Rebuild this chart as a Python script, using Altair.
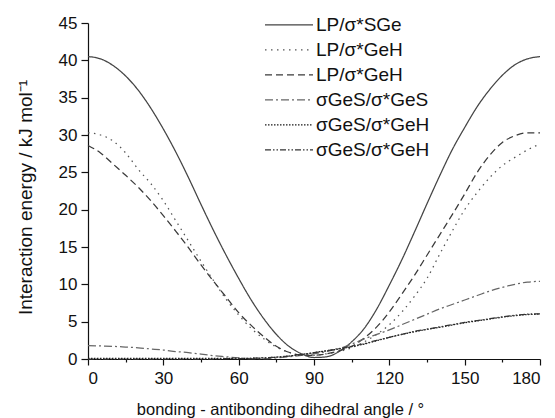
import altair as alt
import pandas as pd

# Dihedral angle grid (degrees)
angle = list(range(0, 181, 5))

# Interaction energies (kJ/mol) for each NBO donor/acceptor pair
lp_sge = [40.5, 40.2, 39.3, 37.9, 36.0, 33.6, 30.8, 27.7, 24.3, 20.7, 17.2, 13.9,
          10.8, 7.9, 5.4, 3.3, 1.7, 0.7, 0.2, 0.3, 1.0, 2.3, 4.1, 6.7, 9.9, 13.3,
          17.0, 20.8, 24.5, 28.0, 31.0, 33.8, 36.1, 38.0, 39.4, 40.2, 40.5]
lp_geh_a = [30.3, 30.0, 29.2, 27.6, 25.4, 23.5, 21.2, 18.5, 15.8, 13.1, 10.5, 8.0,
            5.9, 4.1, 2.7, 1.6, 0.9, 0.5, 0.5, 0.7, 1.0, 1.5, 2.3, 3.3, 4.6, 6.3,
            8.4, 10.8, 14.0, 17.1, 20.0, 22.3, 24.3, 25.9, 27.0, 28.0, 28.8]
lp_geh_b = [28.6, 27.6, 26.1, 24.6, 23.0, 21.2, 19.2, 17.1, 14.9, 12.6, 10.4, 8.3,
            6.2, 4.5, 3.0, 1.7, 0.9, 0.5, 0.5, 0.7, 1.1, 1.7, 2.8, 4.3, 6.3, 8.7,
            11.2, 13.9, 16.6, 19.3, 22.1, 25.0, 27.3, 29.0, 29.9, 30.3, 30.3]
ges_ges = [1.8, 1.75, 1.7, 1.6, 1.5, 1.35, 1.2, 1.0, 0.85, 0.65, 0.45, 0.3,
           0.15, 0.05, 0.05, 0.15, 0.3, 0.5, 0.7, 1.0, 1.4, 2.0, 2.7, 3.3, 3.9,
           4.6, 5.3, 6.0, 6.7, 7.3, 7.9, 8.5, 9.1, 9.6, 10.0, 10.3, 10.4]
ges_geh_a = [0.1, 0.1, 0.1, 0.1, 0.1, 0.1, 0.1, 0.1, 0.1, 0.1, 0.1, 0.1,
             0.1, 0.1, 0.15, 0.25, 0.4, 0.6, 0.85, 1.1, 1.35, 1.65, 2.0, 2.45,
             2.9, 3.3, 3.65, 3.95, 4.25, 4.55, 4.85, 5.1, 5.35, 5.6, 5.8, 5.95, 6.0]
ges_geh_b = [0.0, 0.0, 0.0, 0.0, 0.0, 0.0, 0.0, 0.0, 0.0, 0.0, 0.0, 0.05,
             0.05, 0.1, 0.15, 0.25, 0.4, 0.6, 0.85, 1.1, 1.4, 1.7, 2.05, 2.5,
             2.9, 3.3, 3.7, 4.0, 4.3, 4.6, 4.9, 5.15, 5.4, 5.65, 5.85, 6.0, 6.05]

# Series keys carry an index after "|" so repeated labels stay distinct
series_keys = ["LP/σ*SGe|1", "LP/σ*GeH|2", "LP/σ*GeH|3",
               "σGeS/σ*GeS|4", "σGeS/σ*GeH|5", "σGeS/σ*GeH|6"]
series_values = [lp_sge, lp_geh_a, lp_geh_b, ges_ges, ges_geh_a, ges_geh_b]
series_colors = ["#444444", "#555555", "#3a3a3a", "#666666", "#1a1a1a", "#333333"]
series_dashes = [[1, 0], [1.5, 4.5], [7, 4], [8, 3, 2, 3], [1.5, 1.5],
                 [6, 2, 1.5, 2, 1.5, 2]]

frames = []
for key, vals in zip(series_keys, series_values):
    frames.append(pd.DataFrame({"angle": angle, "energy": vals, "series": key}))
df = pd.concat(frames, ignore_index=True)

FONT = "Liberation Sans"

legend = alt.Legend(
    orient="none", legendX=176, legendY=-10.5, title=None,
    symbolType="stroke", symbolSize=2304, symbolStrokeWidth=1.2,
    clipHeight=24.6, rowPadding=0, padding=0, labelOffset=2,
    labelFont=FONT, labelFontSize=19, labelColor="#111111",
    labelExpr="split(datum.label, '|')[0]",
)

chart = alt.Chart(df).mark_line(interpolate="monotone", strokeWidth=1.25).encode(
    x=alt.X(
        "angle:Q",
        scale=alt.Scale(domain=[0, 180], nice=False, zero=False),
        axis=alt.Axis(
            values=list(range(0, 181, 15)),
            labelExpr="datum.value % 30 == 0 ? datum.label : ''",
            tickSize={"condition": {"test": "datum.value % 30 == 0", "value": 6}, "value": 3},
            labelPadding=5,
            title="bonding - antibonding dihedral angle / °",
            titleX=192, titleY=55, titleBaseline="alphabetic", titleAlign="center",
        ),
    ),
    y=alt.Y(
        "energy:Q",
        scale=alt.Scale(domain=[0, 45], nice=False),
        axis=alt.Axis(
            values=list(range(0, 46, 5)),
            tickSize=7, labelPadding=4,
            title="Interaction energy / kJ mol⁻¹",
            titleFontSize=19,
            titleX=-63, titleY=174, titleBaseline="middle", titleAlign="center",
            titleAngle=270,
        ),
    ),
    color=alt.Color("series:N", scale=alt.Scale(domain=series_keys, range=series_colors),
                    legend=legend),
    strokeDash=alt.StrokeDash("series:N", scale=alt.Scale(domain=series_keys, range=series_dashes),
                              legend=legend),
).properties(
    width=452, height=336,
    autosize=alt.AutoSizeParams(type="none"),
    padding={"left": 88, "top": 23, "right": 15, "bottom": 59},
).configure_view(
    stroke=None
).configure_axis(
    grid=False, domainColor="#111111", tickColor="#111111", domainWidth=1.2, tickWidth=1.2,
    labelFont=FONT, labelFontSize=17, labelColor="#111111",
    titleFont=FONT, titleFontSize=16.5, titleFontWeight="normal", titleColor="#111111",
)

chart.save("out.html", embed_options={"renderer": "svg", "actions": False})
